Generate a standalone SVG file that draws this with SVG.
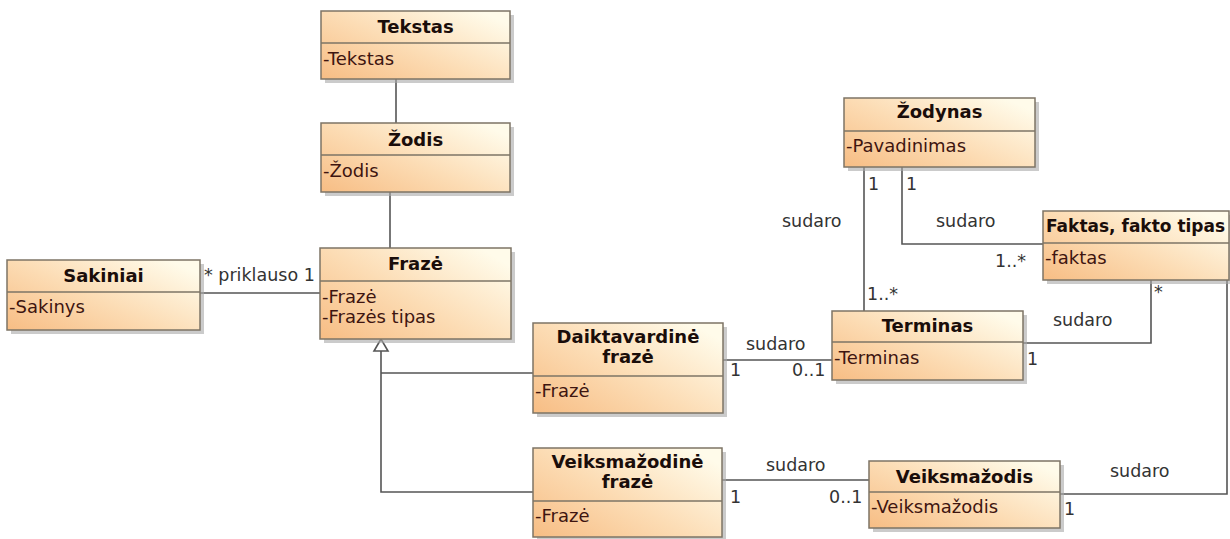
<svg xmlns="http://www.w3.org/2000/svg" width="1230" height="539" viewBox="0 0 1230 539">
<defs>
<linearGradient id="g" x1="0" y1="1" x2="1" y2="0.2">
<stop offset="0" stop-color="#f7bd84"/>
<stop offset="0.5" stop-color="#fcdcb4"/>
<stop offset="1" stop-color="#fffbea"/>
</linearGradient>
<style>
.shadow{fill:#a8a8a8;opacity:0.6}
.box{fill:url(#g);stroke:#7d7466;stroke-width:1.5}
.div{stroke:#7d7466;stroke-width:1.5}
.t{font-family:"DejaVu Sans",Verdana,sans-serif;font-weight:bold;font-size:18px;fill:#1a0d0a;text-anchor:middle}
.a{font-family:"DejaVu Sans",Verdana,sans-serif;font-size:18px;fill:#3e1510}
.l{font-family:"DejaVu Sans",Verdana,sans-serif;font-size:17.5px;fill:#333}
.c{fill:none;stroke:#555;stroke-width:1.6}
</style>
</defs>
<rect width="1230" height="539" fill="#fff"/>

<g id="connectors">
<line class="c" x1="396" y1="79" x2="396" y2="123"/>
<line class="c" x1="390" y1="192" x2="390" y2="248"/>
<line class="c" x1="200" y1="293" x2="320" y2="293"/>
<text class="l" x="204" y="281">* priklauso 1</text>
<polyline class="c" points="533,373 381,373"/>
<polyline class="c" points="533,492 381,492 381,351"/>
<polygon points="381,339 374,351 388,351" fill="#fff" stroke="#555" stroke-width="1.6"/>
<line class="c" x1="723" y1="360" x2="832" y2="360"/>
<text class="l" x="746" y="350">sudaro</text>
<text class="l" x="730" y="376">1</text>
<text class="l" x="792" y="376">0..1</text>
<line class="c" x1="722" y1="480" x2="869" y2="480"/>
<text class="l" x="766" y="471">sudaro</text>
<text class="l" x="730" y="503">1</text>
<text class="l" x="829" y="503">0..1</text>
<polyline class="c" points="1060,494 1227,494 1227,280"/>
<text class="l" x="1110" y="477">sudaro</text>
<text class="l" x="1064" y="515">1</text>
<polyline class="c" points="1023,343 1151,343 1151,280"/>
<text class="l" x="1053" y="326">sudaro</text>
<text class="l" x="1027" y="365">1</text>
<text class="l" x="1154" y="298">*</text>
<line class="c" x1="864" y1="167" x2="864" y2="311"/>
<text class="l" x="868" y="190">1</text>
<text class="l" x="867" y="300">1..*</text>
<text class="l" x="782" y="227">sudaro</text>
<polyline class="c" points="902,167 902,244 1043,244"/>
<text class="l" x="906" y="190">1</text>
<text class="l" x="936" y="227">sudaro</text>
<text class="l" x="995" y="267">1..*</text>
</g>

<g id="tekstas">
<rect class="shadow" x="325" y="15" width="189" height="68"/>
<rect class="box" x="321" y="11" width="189" height="68"/>
<line class="div" x1="321" y1="43" x2="510" y2="43"/>
<text class="t" x="415.5" y="33">Tekstas</text>
<text class="a" x="323" y="65">-Tekstas</text>
</g>

<g id="zodis">
<rect class="shadow" x="325" y="127" width="189" height="69"/>
<rect class="box" x="321" y="123" width="189" height="69"/>
<line class="div" x1="321" y1="155" x2="510" y2="155"/>
<text class="t" x="415.5" y="146">Žodis</text>
<text class="a" x="323" y="177">-Žodis</text>
</g>

<g id="fraze">
<rect class="shadow" x="324" y="252" width="191" height="91"/>
<rect class="box" x="320" y="248" width="191" height="91"/>
<line class="div" x1="320" y1="281" x2="511" y2="281"/>
<text class="t" x="415.5" y="270">Frazė</text>
<text class="a" x="322" y="303">-Frazė</text>
<text class="a" x="322" y="323">-Frazės tipas</text>
</g>

<g id="sakiniai">
<rect class="shadow" x="11" y="264" width="193" height="70"/>
<rect class="box" x="7" y="260" width="193" height="70"/>
<line class="div" x1="7" y1="292" x2="200" y2="292"/>
<text class="t" x="103.5" y="282">Sakiniai</text>
<text class="a" x="9" y="313">-Sakinys</text>
</g>

<g id="daiktavardine">
<rect class="shadow" x="537" y="327" width="190" height="90"/>
<rect class="box" x="533" y="323" width="190" height="90"/>
<line class="div" x1="533" y1="376" x2="723" y2="376"/>
<text class="t" x="628" y="343">Daiktavardinė</text>
<text class="t" x="628" y="363">frazė</text>
<text class="a" x="535" y="397">-Frazė</text>
</g>

<g id="veiksmazodine">
<rect class="shadow" x="537" y="452" width="189" height="89"/>
<rect class="box" x="533" y="448" width="189" height="89"/>
<line class="div" x1="533" y1="501" x2="722" y2="501"/>
<text class="t" x="627.5" y="468">Veiksmažodinė</text>
<text class="t" x="627.5" y="488">frazė</text>
<text class="a" x="535" y="522">-Frazė</text>
</g>

<g id="zodynas">
<rect class="shadow" x="848" y="102" width="191" height="69"/>
<rect class="box" x="844" y="98" width="191" height="69"/>
<line class="div" x1="844" y1="131" x2="1035" y2="131"/>
<text class="t" x="939.5" y="118">Žodynas</text>
<text class="a" x="846" y="152">-Pavadinimas</text>
</g>

<g id="faktas">
<rect class="shadow" x="1047" y="215" width="183" height="69"/>
<rect class="box" x="1043" y="211" width="186" height="69"/>
<line class="div" x1="1043" y1="243" x2="1229" y2="243"/>
<text class="t" x="1046" y="232" style="text-anchor:start;font-size:17px">Faktas, fakto tipas</text>
<text class="a" x="1045" y="264">-faktas</text>
</g>

<g id="terminas">
<rect class="shadow" x="836" y="315" width="191" height="69"/>
<rect class="box" x="832" y="311" width="191" height="69"/>
<line class="div" x1="832" y1="342" x2="1023" y2="342"/>
<text class="t" x="927.5" y="332">Terminas</text>
<text class="a" x="834" y="364">-Terminas</text>
</g>

<g id="veiksmazodis">
<rect class="shadow" x="873" y="465" width="191" height="67"/>
<rect class="box" x="869" y="461" width="191" height="67"/>
<line class="div" x1="869" y1="492" x2="1060" y2="492"/>
<text class="t" x="964.5" y="483">Veiksmažodis</text>
<text class="a" x="871" y="513">-Veiksmažodis</text>
</g>
</svg>
